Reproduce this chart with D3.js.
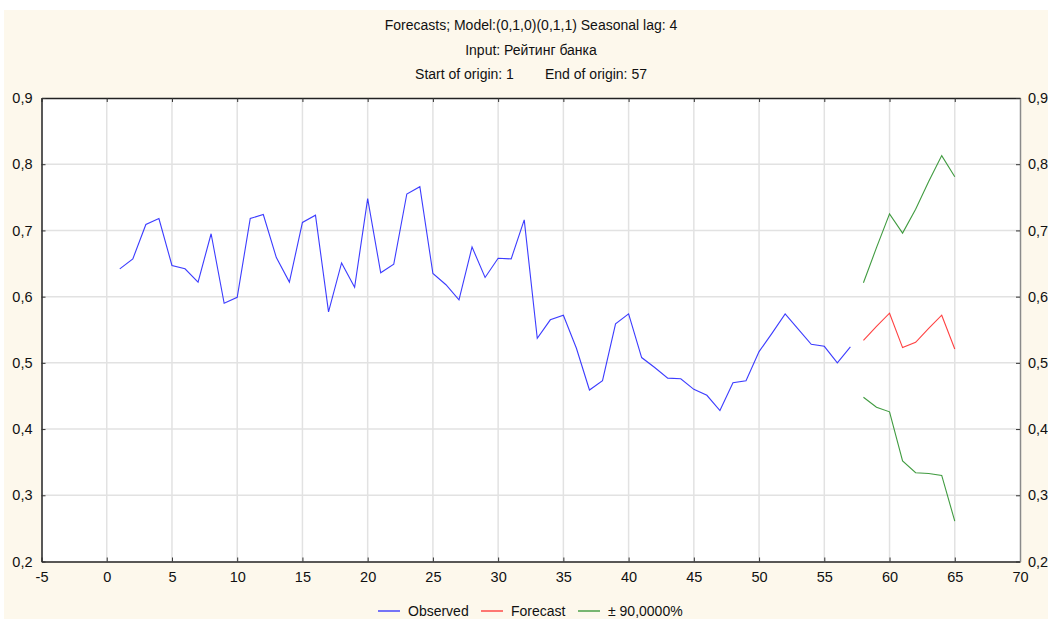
<!DOCTYPE html>
<html>
<head>
<meta charset="utf-8">
<script src="https://cdn.jsdelivr.net/npm/d3@7"></script>
<style>
  html, body { margin: 0; padding: 0; background: #ffffff; }
  svg { display: block; }
  text { font-family: "Liberation Sans", Arial, sans-serif; fill: #111; }
</style>
</head>
<body>
<svg id="chart" width="1048" height="619"></svg>
<script>
// Bank rating series (t = 1..57) and the seasonal ARIMA forecast (t = 58..65)
const observedT = d3.range(1, 58);
const observedValues = [
  0.642, 0.657, 0.709, 0.718, 0.647, 0.642, 0.622, 0.695, 0.590, 0.599,
  0.718, 0.724, 0.659, 0.622, 0.712, 0.723, 0.577, 0.651, 0.614, 0.748,
  0.636, 0.649, 0.755, 0.766, 0.635, 0.618, 0.595, 0.675, 0.629, 0.658,
  0.657, 0.716, 0.537, 0.565, 0.572, 0.522, 0.459, 0.473, 0.559, 0.574,
  0.508, 0.493, 0.477, 0.476, 0.460, 0.451, 0.428, 0.470, 0.473, 0.517,
  0.545, 0.574, 0.551, 0.528, 0.525, 0.500, 0.524
];
const forecastT = d3.range(58, 66);
const forecastValues = [0.534, 0.555, 0.575, 0.523, 0.531, 0.552, 0.572, 0.521];
const upperValues    = [0.621, 0.674, 0.725, 0.696, 0.732, 0.774, 0.813, 0.781];
const lowerValues    = [0.448, 0.433, 0.426, 0.352, 0.334, 0.333, 0.330, 0.261];

const xTicks = d3.range(-5, 71, 5);
const yTicks = [0.2, 0.3, 0.4, 0.5, 0.6, 0.7, 0.8, 0.9];

const titleLines = [
  "Forecasts; Model:(0,1,0)(0,1,1) Seasonal lag: 4",
  "Input: Рейтинг банка",
  "Start of origin: 1        End of origin: 57"
];
const legendItems = [
  { label: "Observed", color: "#1a1aff" },
  { label: "Forecast", color: "#ff2020" },
  { label: "± 90,0000%", color: "#1f8a1f" }
];

const W = 1048, H = 619;
const plot = { left: 41.5, right: 1020, top: 98, bottom: 561.5 };

const svg = d3.select("#chart");

// Outer panel
svg.append("rect").attr("x", 4).attr("y", 10).attr("width", W - 4).attr("height", H - 10)
  .attr("fill", "#fdf8ec");
svg.append("rect").attr("x", plot.left).attr("y", plot.top)
  .attr("width", plot.right - plot.left).attr("height", plot.bottom - plot.top)
  .attr("fill", "#ffffff");

const x = d3.scaleLinear().domain([-5, 70]).range([plot.left, plot.right]);
const y = d3.scaleLinear().domain([0.2, 0.9]).range([plot.bottom, plot.top]);

// Grid
const grid = svg.append("g").attr("stroke", "#e2e2e2").attr("stroke-width", 1.5);
grid.selectAll("line.v").data(xTicks.slice(1, -1)).join("line")
  .attr("x1", d => x(d)).attr("x2", d => x(d))
  .attr("y1", plot.top).attr("y2", plot.bottom);
grid.selectAll("line.h").data(yTicks.slice(1, -1)).join("line")
  .attr("x1", plot.left).attr("x2", plot.right)
  .attr("y1", d => y(d)).attr("y2", d => y(d));

// Series
const line = d3.line().x(d => x(d[0])).y(d => y(d[1]));
const series = [
  { t: observedT, v: observedValues, color: legendItems[0].color },
  { t: forecastT, v: forecastValues, color: legendItems[1].color },
  { t: forecastT, v: upperValues, color: legendItems[2].color },
  { t: forecastT, v: lowerValues, color: legendItems[2].color }
];
svg.append("g").selectAll("path").data(series).join("path")
  .attr("d", s => line(s.t.map((t, i) => [t, s.v[i]])))
  .attr("fill", "none")
  .attr("stroke", s => s.color)
  .attr("stroke-width", 1.1)
  .attr("stroke-opacity", 0.85);

// Axes with inward ticks
const fmtY = d => d3.format(".1f")(d).replace(".", ",");
const fmtX = d => String(d);
const bottomAxis = d3.axisBottom(x).tickValues(xTicks).tickSizeInner(-4).tickSizeOuter(0).tickPadding(10).tickFormat(fmtX);
const topAxis = d3.axisTop(x).tickValues(xTicks).tickSizeInner(-4).tickSizeOuter(0).tickFormat("");
const leftAxis = d3.axisLeft(y).tickValues(yTicks).tickSizeInner(-4).tickSizeOuter(0).tickPadding(9).tickFormat(fmtY);
const rightAxis = d3.axisRight(y).tickValues(yTicks).tickSizeInner(-4).tickSizeOuter(0).tickPadding(8).tickFormat(fmtY);

function styleAxis(g, color) {
  g.select(".domain").attr("stroke", color).attr("stroke-width", 1.5);
  g.selectAll(".tick line").attr("stroke", "#333");
  g.selectAll(".tick text").attr("font-size", 14.5).attr("fill", "#111")
    .attr("font-family", "'Liberation Sans', Arial, sans-serif");
}
svg.append("g").attr("transform", `translate(0,${plot.bottom})`).call(bottomAxis).call(g => styleAxis(g, "#222"));
svg.append("g").attr("transform", `translate(0,${plot.top})`).call(topAxis).call(g => styleAxis(g, "#222"));
svg.append("g").attr("transform", `translate(${plot.left},0)`).call(leftAxis).call(g => styleAxis(g, "#222"));
svg.append("g").attr("transform", `translate(${plot.right},0)`).call(rightAxis).call(g => styleAxis(g, "#8a8a8a"));

// Title
svg.append("g").selectAll("text").data(titleLines).join("text")
  .attr("x", 531).attr("y", (d, i) => 30 + i * 24.5)
  .attr("text-anchor", "middle").attr("font-size", 14)
  .attr("xml:space", "preserve").style("white-space", "pre")
  .text(d => d);

// Legend
const legendPos = [378, 481, 578];
const lg = svg.append("g").selectAll("g").data(legendItems).join("g")
  .attr("transform", (d, i) => `translate(${legendPos[i]},611)`);
lg.append("line").attr("x1", 0).attr("x2", 22).attr("y1", 0).attr("y2", 0)
  .attr("stroke", d => d.color).attr("stroke-width", 1.2);
lg.append("text").attr("x", 30).attr("y", 5).attr("font-size", 14).text(d => d.label);
</script>
</body>
</html>
